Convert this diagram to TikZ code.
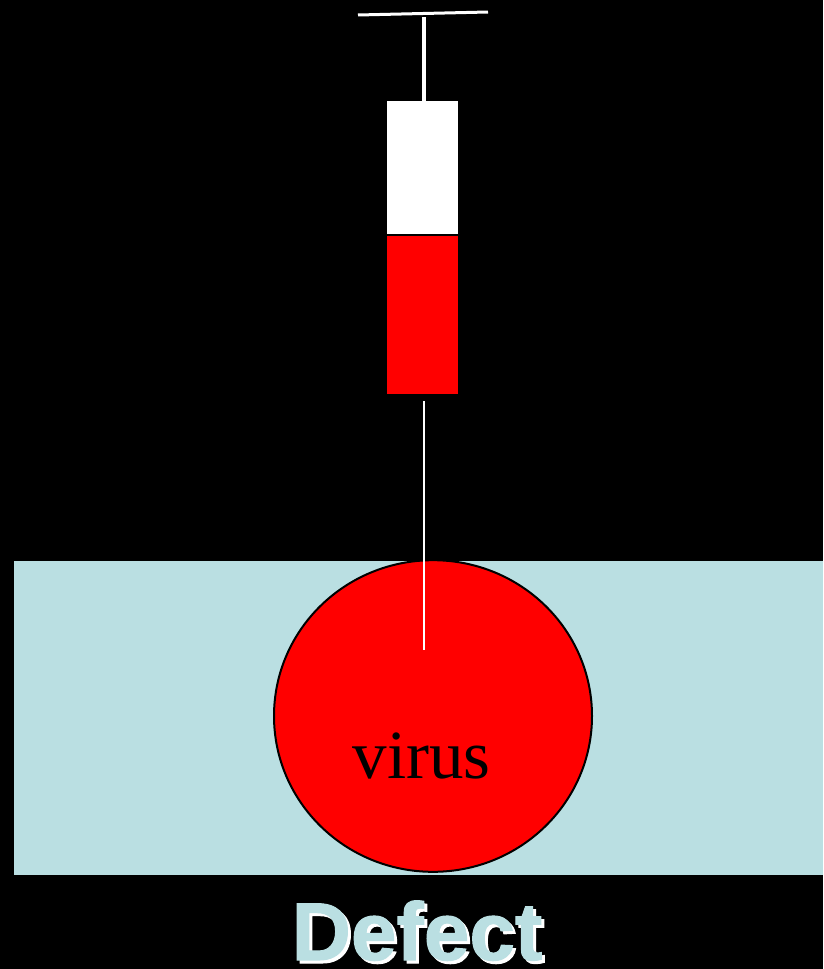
\documentclass[tikz,border=0pt]{standalone}
\usepackage{fontspec}
\setmainfont{Liberation Serif}
\setsansfont{Liberation Sans}
\newfontfamily\titlefont[BoldFeatures={FakeBold=1.2}]{Liberation Sans}
\usetikzlibrary{calc,positioning}
\definecolor{defect}{HTML}{BADFE2}
\definecolor{virusred}{HTML}{FF0000}
\tikzset{
  needleline/.style={draw=white, line width=1.5pt},
  barrelbox/.style={draw=none, minimum width=71pt, inner sep=0pt, anchor=north west},
  titletext/.style={font=\titlefont\bfseries\fontsize{82}{82}\selectfont, inner sep=0pt, anchor=base},
}
\begin{document}
\begin{tikzpicture}[x=1pt, y=-1pt, font=\rmfamily]
\useasboundingbox[fill=black] (0,0) rectangle (823,969);
\node[draw=none, fill=defect, minimum width=809pt, minimum height=314pt, inner sep=0pt, anchor=north west] (layer) at (14,561) {};
\node[circle, draw=black, line width=2pt, fill=virusred, minimum size=318pt, inner sep=0pt, yscale=0.98] (defectball) at (433,716) {};
\node[font=\fontsize{69}{69}\selectfont, text=black, inner sep=0pt, anchor=base] (virus) at (421.5,778) {virus};
\node[barrelbox, fill=white, minimum height=134pt] (barrel) at (387,101) {};
\node[barrelbox, fill=virusred, minimum height=160pt] (dose) at (387,234) {};
\draw[black, line width=2pt] (barrel.south west) -- (barrel.south east);
\coordinate (plungerleft) at (358,15);
\coordinate (plungerright) at (488,12);
\coordinate (plungertop) at (424,17);
\coordinate (needletop) at (424,401);
\coordinate (needletip) at (424,650);
\draw[needleline, line width=3pt] (plungerleft) -- (plungerright);
\draw[needleline, line width=4pt] (plungertop) -- (plungertop |- barrel.north);
\draw[needleline] (needletop) -- (needletip);
\node[titletext, text=white] (labelback) at (420,963) {Defect};
\node[titletext, text=defect] (label) at (417,960) {Defect};
\end{tikzpicture}
\end{document}
